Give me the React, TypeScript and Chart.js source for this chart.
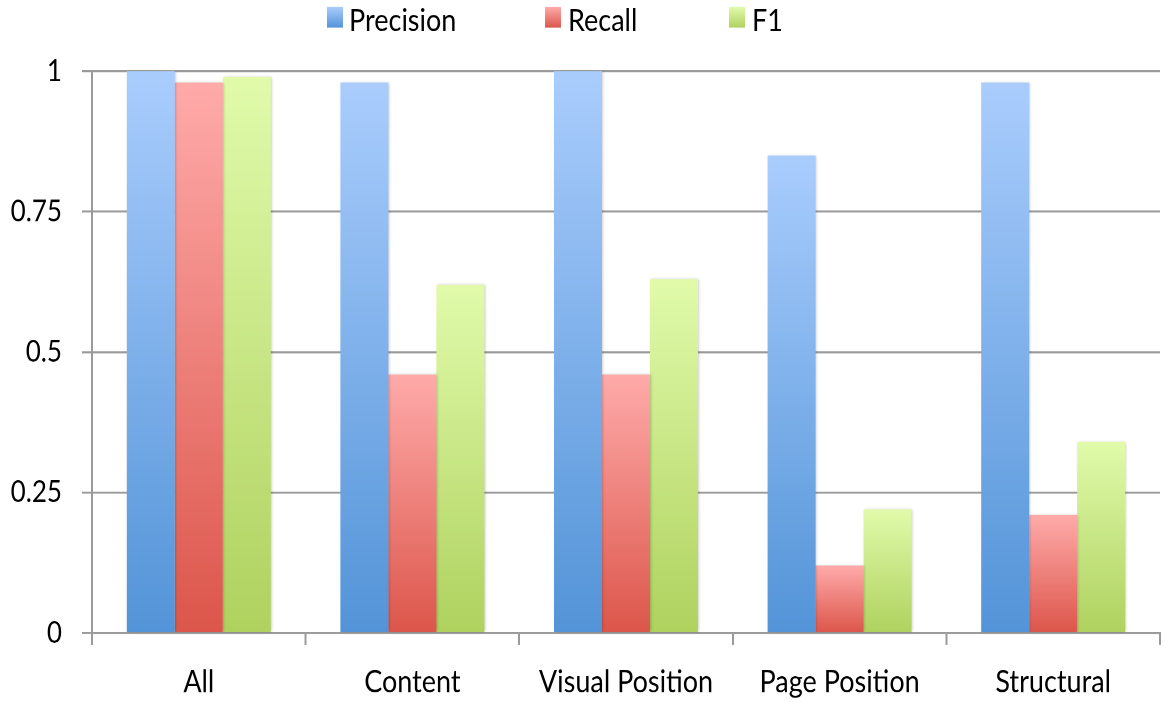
import React, { useEffect, useRef } from "react";
import { Chart, registerables } from "chart.js";

Chart.register(...registerables);

const categories = ["All", "Content", "Visual Position", "Page Position", "Structural"];
const seriesNames = ["Precision", "Recall", "F1"];
const precision = [1.0, 0.98, 1.0, 0.85, 0.98];
const recall = [0.98, 0.46, 0.46, 0.12, 0.21];
const f1 = [0.99, 0.62, 0.63, 0.22, 0.34];
const yTicks = [0, 0.25, 0.5, 0.75, 1];

// top / bottom stops of each series' gradient
const fills: [string, string][] = [
  ["#aacdfd", "#5394d8"],
  ["#ffabaa", "#dc564b"],
  ["#e1fbab", "#afd25f"],
];

const FONT = "Lato, 'Open Sans', sans-serif";
const FONT_SIZE = 27;
const STRETCH = 1.15; // the whole figure is drawn a little taller than wide
const W = 1166;
const H = 702 / STRETCH;

// Vertical gradient per bar: light at the top, saturated at the base.
function barGradient(top: string, bottom: string) {
  return (ctx: any) => {
    const chart = ctx.chart;
    const y = chart.scales?.y;
    if (!y || ctx.type !== "data") return bottom;
    const v = ctx.raw as number;
    const yTop = y.getPixelForValue(v);
    const yBase = y.getPixelForValue(0);
    if (!isFinite(yTop) || !isFinite(yBase) || yTop === yBase) return bottom;
    const g = chart.ctx.createLinearGradient(0, yTop, 0, yBase);
    g.addColorStop(0, top);
    g.addColorStop(1, bottom);
    return g;
  };
}

// Soft drop shadow under the bars.
const barShadow = {
  id: "barShadow",
  beforeDatasetsDraw(chart: any) {
    const c = chart.ctx;
    c.save();
    c.shadowColor = "rgba(0,0,0,0.22)";
    c.shadowBlur = 5;
    c.shadowOffsetX = 2;
    c.shadowOffsetY = 0;
  },
  afterDatasetsDraw(chart: any) {
    chart.ctx.restore();
  },
};

const legendPos = [
  { box: 327, text: 349 },
  { box: 545, text: 568 },
  { box: 729, text: 752 },
];

export default function App() {
  const ref = useRef<HTMLCanvasElement | null>(null);

  useEffect(() => {
    if (!ref.current) return;
    const chart = new Chart(ref.current, {
      type: "bar",
      data: {
        labels: categories,
        datasets: [
          { label: seriesNames[0], data: precision, backgroundColor: barGradient(...fills[0]) },
          { label: seriesNames[1], data: recall, backgroundColor: barGradient(...fills[1]) },
          { label: seriesNames[2], data: f1, backgroundColor: barGradient(...fills[2]) },
        ],
      },
      plugins: [barShadow],
      options: {
        animation: false,
        responsive: true,
        maintainAspectRatio: false,
        devicePixelRatio: 2,
        layout: { padding: { left: 0, right: 6, top: 62, bottom: 0 } },
        datasets: {
          bar: { categoryPercentage: 0.674, barPercentage: 1.0, borderWidth: 0 },
        },
        plugins: {
          tooltip: { enabled: false },
          legend: { display: false },
        },
        scales: {
          x: {
            offset: true,
            afterFit: (axis: any) => {
              axis.height = 60;
            },
            grid: {
              offset: true,
              drawOnChartArea: false,
              drawTicks: true,
              tickLength: 10.5,
              color: "#9a9a9a",
              lineWidth: 2,
            },
            border: { display: true, color: "#9a9a9a", width: 1.75 },
            ticks: {
              color: "#000",
              font: { family: FONT, size: FONT_SIZE },
              padding: 16,
              maxRotation: 0,
              autoSkip: false,
            },
          },
          y: {
            min: 0,
            max: 1,
            afterFit: (axis: any) => {
              axis.width = 92;
            },
            afterBuildTicks: (axis: any) => {
              axis.ticks = yTicks.map((v) => ({ value: v }));
            },
            grid: {
              color: "#9a9a9a",
              lineWidth: 1.75,
              drawTicks: true,
              tickLength: 10,
            },
            border: { display: true, color: "#9a9a9a", width: 2 },
            ticks: {
              color: "#000",
              font: { family: FONT, size: 26 },
              padding: 20,
              callback: (v: any) => String(Number(v)),
            },
          },
        },
      },
    });
    return () => chart.destroy();
  }, []);

  return (
    <div style={{ position: "fixed", left: 0, top: 0, width: W, height: 702, background: "#fff", overflow: "hidden" }}>
      <div
        style={{
          position: "absolute",
          left: 0,
          top: 0,
          width: W,
          height: H,
          transform: `scaleY(${STRETCH})`,
          transformOrigin: "0 0",
        }}
      >
        <canvas ref={ref} />
        {seriesNames.map((name, i) => (
          <React.Fragment key={name}>
            <div
              style={{
                position: "absolute",
                left: legendPos[i].box,
                top: 6,
                width: 16,
                height: 18.3,
                background: `linear-gradient(${fills[i][0]}, ${fills[i][1]})`,
              }}
            />
            <div
              style={{
                position: "absolute",
                left: legendPos[i].text,
                top: 3.2,
                fontFamily: FONT,
                fontSize: FONT_SIZE,
                lineHeight: 1,
                color: "#000",
                whiteSpace: "nowrap",
              }}
            >
              {name}
            </div>
          </React.Fragment>
        ))}
      </div>
    </div>
  );
}
